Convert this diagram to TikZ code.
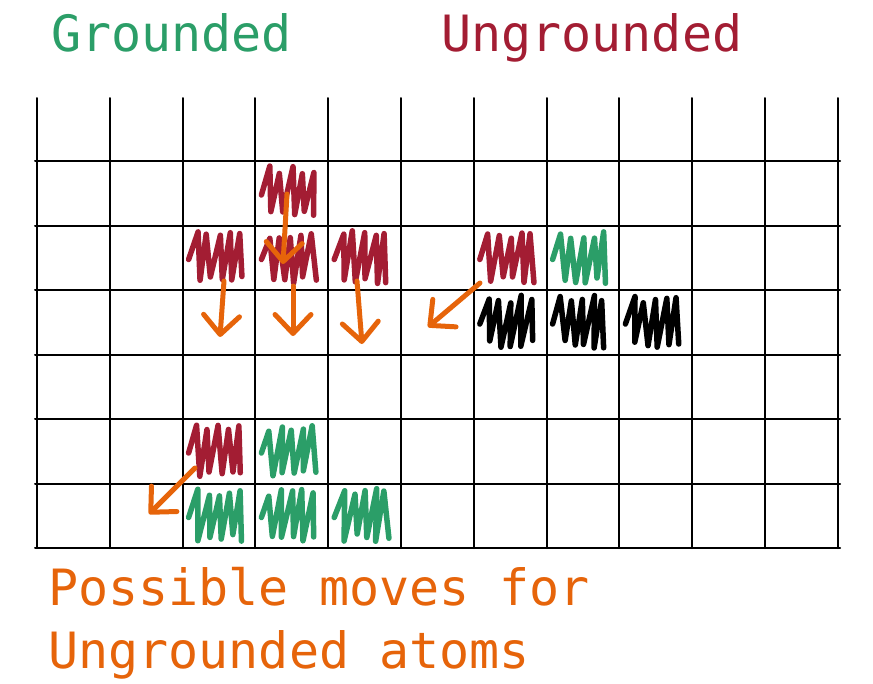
\documentclass[tikz,border=0pt]{standalone}
\usepackage{fontspec}
\setmonofont{DejaVu Sans Mono}
\usepackage{xcolor}
\usetikzlibrary{arrows.meta, positioning}
\definecolor{clrGround}{HTML}{2B9E68}
\definecolor{clrUnground}{HTML}{A31D33}
\definecolor{clrMove}{HTML}{E6640A}

% scribble filling one grid cell: column, row, colour
\newcommand{\hatchcell}[3]{%
  \pgfmathsetmacro{\hx}{37+72.8*#1}%
  \pgfmathsetmacro{\hy}{161+64.5*#2}%
  \draw[scribble, #3] (\hx+6,\hy+34) foreach \k in {0,...,4} { -- (\hx+15+10.5*\k+2*rand,\hy+9+4*rand) -- (\hx+17+10.5*\k+2*rand,\hy+54+4*rand) };%
}

\begin{document}
\begin{tikzpicture}[
    x=1pt, y=-1pt,
    gridline/.style={line width=2pt, black, line cap=round},
    scribble/.style={line width=5.5pt, line cap=round, line join=round},
    move/.style={draw=clrMove, line width=5pt, line cap=round, -{Straight Barb[length=19pt, width=36pt, line cap=round, line join=round]}},
    title/.style={anchor=base west, inner sep=0pt, font=\fontsize{50}{63}\selectfont\ttfamily},
]
\useasboundingbox (0,0) rectangle (873,683);
\pgfmathsetseed{17}

% grid
\foreach \c in {0,...,11}
  \draw[gridline] (37+72.8*\c, 98) -- (37+72.8*\c, 548);
\foreach \r in {0,...,6}
  \draw[gridline] (35, 161+64.5*\r) -- (840, 161+64.5*\r);

% atoms
\hatchcell{3}{0}{clrUnground}
\hatchcell{2}{1}{clrUnground}
\hatchcell{3}{1}{clrUnground}
\hatchcell{4}{1}{clrUnground}
\hatchcell{6}{1}{clrUnground}
\hatchcell{7}{1}{clrGround}
\hatchcell{6}{2}{black}
\hatchcell{7}{2}{black}
\hatchcell{8}{2}{black}
\hatchcell{2}{4}{clrUnground}
\hatchcell{3}{4}{clrGround}
\hatchcell{2}{5}{clrGround}
\hatchcell{3}{5}{clrGround}
\hatchcell{4}{5}{clrGround}

% moves
\coordinate (topS) at (287,194);
\coordinate (topE) at (283,264);
\coordinate (leftS) at (224,281);
\coordinate (leftE) at (220,337);
\coordinate (midS) at (293,286);
\coordinate (midE) at (293,336);
\coordinate (rightS) at (357,281);
\coordinate (rightE) at (362,344);
\coordinate (diagS) at (480,283);
\coordinate (diagE) at (428,327);
\coordinate (lowS) at (195,468);
\coordinate (lowE) at (149,514);
\draw[move] (topS) -- (topE);
\draw[move] (leftS) -- (leftE);
\draw[move] (midS) -- (midE);
\draw[move] (rightS) -- (rightE);
\draw[move] (diagS) -- (diagE);
\draw[move] (lowS) -- (lowE);

% labels
\node[title, text=clrGround] (grounded) at (51,51) {Grounded};
\node[title, text=clrUnground] (ungrounded) at (441,51) {Ungrounded};
\node[title, text=clrMove, align=left] (moves) at (48,668) {Possible moves for\\Ungrounded atoms};

\end{tikzpicture}
\end{document}
